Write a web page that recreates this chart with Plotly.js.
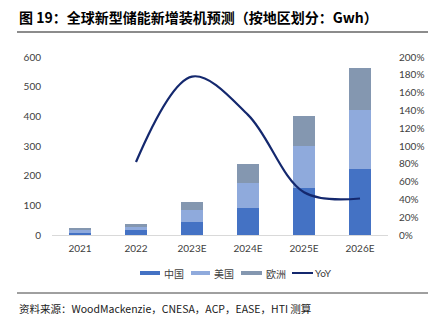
<!DOCTYPE html>
<html><head><meta charset="utf-8">
<script src="https://cdn.plot.ly/plotly-3.0.1.min.js"></script>
<style>html,body{margin:0;padding:0;background:#fff;}#chart{width:428px;height:336px;}</style>
</head><body><div id="chart"></div>
<script>
const categories = ['2021', '2022', '2023E', '2024E', '2025E', '2026E'];
const china = [6, 17, 45, 90, 160, 222];
const usa = [11, 10, 38, 84, 139, 201];
const europe = [5, 11, 28, 67, 103, 139];
const yoy = [null, 0.82, 1.78, 1.35, 0.48, 0.41];
const seriesNames = ['中国', '美国', '欧洲', 'YoY'];
const colors = ['#4472C4', '#8FAADC', '#8497B0', '#14286E'];

const cjk = '"Noto Sans CJK SC", sans-serif';
const lat = 'Lato, "Noto Sans CJK SC", sans-serif';

const traces = [
  {type: 'bar', x: categories, y: china, name: seriesNames[0], marker: {color: colors[0]}, showlegend: false},
  {type: 'bar', x: categories, y: usa, name: seriesNames[1], marker: {color: colors[1]}, showlegend: false},
  {type: 'bar', x: categories, y: europe, name: seriesNames[2], marker: {color: colors[2]}, showlegend: false},
  {type: 'scatter', mode: 'lines', x: categories, y: yoy, name: seriesNames[3], yaxis: 'y2',
   line: {color: colors[3], width: 2.2, shape: 'spline', smoothing: 1}, connectgaps: false, showlegend: false}
];

// custom legend (paper coords relative to plot area: x 52..388, y 235..57)
const px = v => (v - 52) / 336;
const py = v => (235 - v) / 178;
const legSw = [[140, 160], [191, 210], [241, 262]];
const shapes = [];
const annotations = [];
legSw.forEach((s, i) => {
  shapes.push({type: 'rect', xref: 'paper', yref: 'paper', x0: px(s[0]), x1: px(s[1]), y0: py(275), y1: py(271),
    fillcolor: colors[i], line: {width: 0}});
  annotations.push({xref: 'paper', yref: 'paper', x: px(s[1] + 2), y: py(273), xanchor: 'left', yanchor: 'middle',
    text: seriesNames[i], showarrow: false, font: {family: cjk, size: 10, color: '#404040'}});
});
shapes.push({type: 'line', xref: 'paper', yref: 'paper', x0: px(292), x1: px(313), y0: py(273), y1: py(273),
  line: {color: colors[3], width: 2}});
annotations.push({xref: 'paper', yref: 'paper', x: px(313), y: py(273), xanchor: 'left', yanchor: 'middle',
  text: seriesNames[3], showarrow: false, font: {family: lat, size: 10, color: '#404040'}});

// title rule and bottom rule
shapes.push({type: 'line', xref: 'paper', yref: 'paper', x0: px(17), x1: px(428), y0: py(32), y1: py(32),
  line: {color: '#8C8C8C', width: 2}});
shapes.push({type: 'line', xref: 'paper', yref: 'paper', x0: px(17), x1: px(428), y0: py(293), y1: py(293),
  line: {color: '#404040', width: 1}});
annotations.push({xref: 'paper', yref: 'paper', x: px(17), y: py(17), xanchor: 'left', yanchor: 'middle',
  text: '<b>图 19：全球新型储能新增装机预测（按地区划分：Gwh）</b>', showarrow: false,
  font: {family: cjk, size: 14, color: '#000'}});
annotations.push({xref: 'paper', yref: 'paper', x: px(17), y: py(308), xanchor: 'left', yanchor: 'middle',
  text: '资料来源：WoodMackenzie，CNESA，ACP，EASE，HTI 测算', showarrow: false,
  font: {family: cjk, size: 10.5, color: '#202020'}});

const layout = {
  width: 428, height: 336,
  margin: {l: 52, r: 40, t: 57, b: 101, pad: 0},
  paper_bgcolor: '#fff', plot_bgcolor: '#fff',
  barmode: 'stack', bargap: 0.59,
  showlegend: false,
  xaxis: {type: 'category', showgrid: false, zeroline: false, showline: true, linecolor: '#D9D9D9', linewidth: 1,
    ticks: 'outside', ticklen: 4, tickcolor: 'rgba(0,0,0,0)', tickfont: {family: lat, size: 10, color: '#404040'}},
  yaxis: {range: [0, 600], dtick: 100, showgrid: false, zeroline: false, showline: false,
    ticks: 'outside', ticklen: 8, tickcolor: 'rgba(0,0,0,0)', tickfont: {family: lat, size: 10, color: '#404040'}},
  yaxis2: {range: [0, 2], dtick: 0.2, tickformat: '.0%', overlaying: 'y', side: 'right', showgrid: false, zeroline: false,
    showline: false, ticks: 'outside', ticklen: 8, tickcolor: 'rgba(0,0,0,0)', tickfont: {family: lat, size: 10, color: '#404040'}},
  shapes: shapes, annotations: annotations
};
Plotly.newPlot('chart', traces, layout, {displayModeBar: false, staticPlot: true});
</script></body></html>
